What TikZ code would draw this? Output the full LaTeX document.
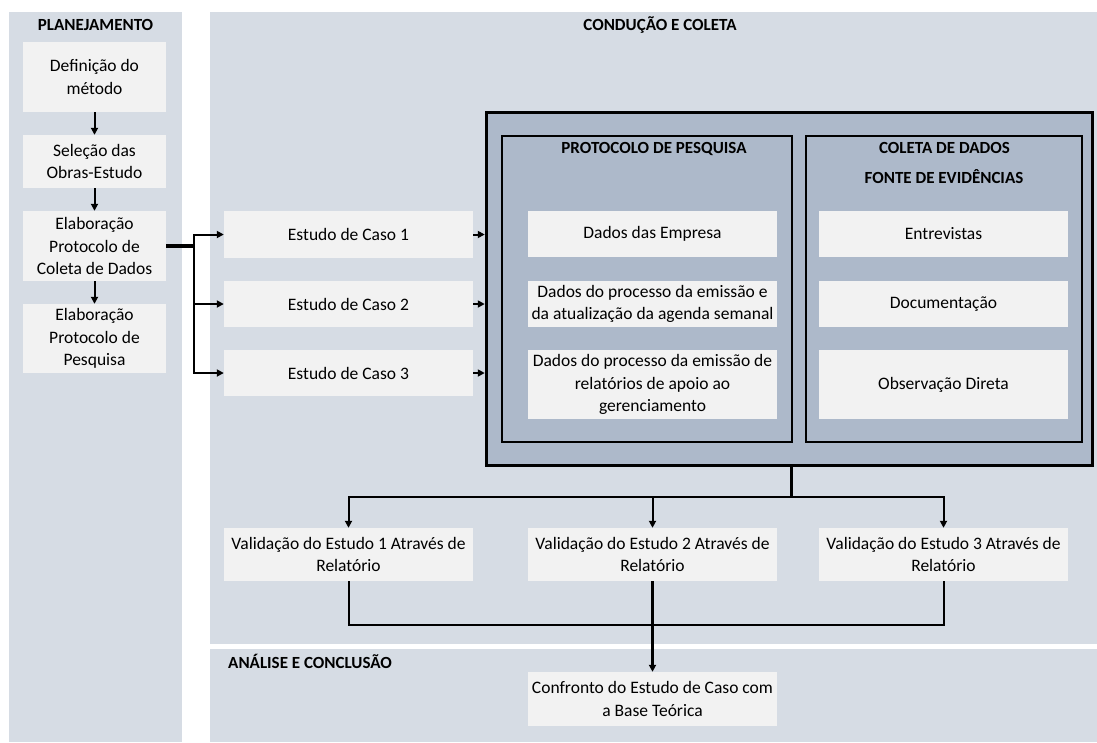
\documentclass[tikz,border=0pt]{standalone}
\usepackage{fontspec}
\setmainfont{Carlito}
\usetikzlibrary{arrows.meta}
\definecolor{panel}{RGB}{214,220,228}
\definecolor{frame}{RGB}{173,185,202}
\definecolor{card}{RGB}{242,242,242}
\begin{document}
\begin{tikzpicture}[x=1pt,y=-1pt,
  txt/.style={font=\fontsize{17.5}{22.7}\selectfont, align=center, inner sep=0pt},
  head/.style={font=\fontsize{17}{20}\selectfont\bfseries, inner sep=0pt, anchor=base},
  card/.style 2 args={txt, fill=card, minimum width=#1, minimum height=#2},
  wire/.style={line width=2},
  conn/.style={wire, -{Triangle[width=7,length=7]}},
  group/.style 2 args={draw, line width=2, fill=frame, minimum width=#1, minimum height=#2, inner sep=0pt},
]
\useasboundingbox (0,0) rectangle (1097,742);

% background panels
\fill[panel] (9,12) rectangle (182,742);
\fill[panel] (210,12) rectangle (1097,644);
\fill[panel] (210,649) rectangle (1097,742);

\node[head] (tplan) at (95.5,30.5) {PLANEJAMENTO};
\node[head] (tcond) at (660,30) {CONDUÇÃO E COLETA};
\node[head, anchor=base west] (tanal) at (228,668) {ANÁLISE E CONCLUSÃO};

% planning steps
\node[card={143}{70}] (d1) at (94.5,77) {Definição do\\método};
\node[card={143}{53}] (d2) at (94.5,161.5) {Seleção das\\Obras-Estudo};
\node[card={143}{70}] (d3) at (94.5,246) {Elaboração\\Protocolo de\\Coleta de Dados};
\node[card={143}{69}] (d4) at (94.5,338.5) {Elaboração\\Protocolo de\\Pesquisa};

\draw[conn] (d1) -- (d2);
\draw[conn] (d2) -- (d3);
\draw[conn] (d3) -- (d4);

% case studies
\node[card={249}{47}] (e1) at (348.5,234.5) {Estudo de Caso 1};
\node[card={249}{46}] (e2) at (348.5,304) {Estudo de Caso 2};
\node[card={249}{46}] (e3) at (348.5,373) {Estudo de Caso 3};

\coordinate (br) at (194,246);
\draw[line width=4] (d3.east) -- (br);
\draw[conn] (br) |- (e1.west);
\draw[conn] (br) |- (e2.west);
\draw[conn] (br) |- (e3.west);

% protocol and data collection frame
\node[group={606}{353}, line width=3.5] (big) at (789.5,289) {};
\node[group={290}{306}] (prot) at (647,289) {};
\node[group={276}{306}] (col) at (944,289) {};

\node[head] (tprot) at (654,153) {PROTOCOLO DE PESQUISA};
\node[head] (tcol1) at (944.5,153) {COLETA DE DADOS};
\node[head] (tcol2) at (944,183) {FONTE DE EVIDÊNCIAS};

\node[card={249}{46}] (p1) at (652.5,234) {Dados das Empresa};
\node[card={249}{46}] (p2) at (652.5,304) {Dados do processo da emissão e\\da atualização da agenda semanal};
\node[card={249}{69}] (p3) at (652.5,384.5) {Dados do processo da emissão de\\relatórios de apoio ao\\gerenciamento};

\node[card={249}{46}] (c1) at (943.5,234) {Entrevistas};
\node[card={249}{46}] (c2) at (943.5,304) {Documentação};
\node[card={249}{69}] (c3) at (943.5,384.5) {Observação Direta};

\draw[conn] (e1.east) -- (e1.east -| big.west);
\draw[conn] (e2.east) -- (e2.east -| big.west);
\draw[conn] (e3.east) -- (e3.east -| big.west);

% validation
\node[card={249}{53}] (v1) at (348.5,554.5) {Validação do Estudo 1 Através de\\Relatório};
\node[card={249}{53}] (v2) at (652.5,554.5) {Validação do Estudo 2 Através de\\Relatório};
\node[card={249}{53}] (v3) at (943.5,554.5) {Validação do Estudo 3 Através de\\Relatório};

\coordinate (jn) at (791,497);
\draw[line width=3] (big.south -| jn) -- (jn);
\draw[conn] (jn) -| (v1.north);
\draw[conn] (jn) -| (v3.north);
\draw[conn] (v2.north |- jn) -- (v2.north);

% analysis
\node[card={249}{54}] (conf) at (652.5,699) {Confronto do Estudo de Caso com\\a Base Teórica};

\coordinate (mg) at (652.5,625);
\draw[wire] (v1.south) |- (mg) -| (v3.south);
\draw[conn, line width=2.5] (v2.south) -- (conf.north);
\end{tikzpicture}
\end{document}
